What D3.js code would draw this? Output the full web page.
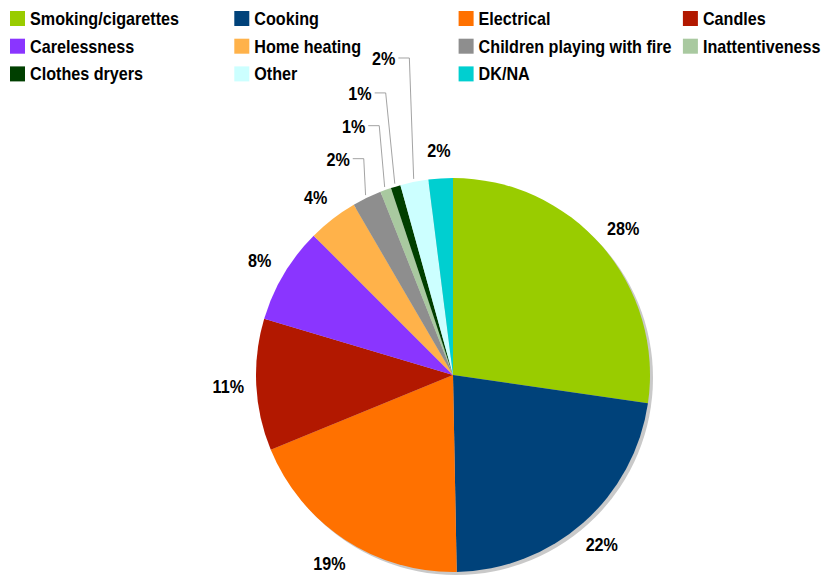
<!DOCTYPE html>
<html>
<head>
<meta charset="utf-8">
<script src="https://cdn.jsdelivr.net/npm/d3@7"></script>
<style>
    body { margin: 0; background: #fff; }
    text { font-family: "Liberation Sans", Arial, sans-serif; font-weight: bold; fill: #000; }
</style>
</head>
<body>
<div id="chart"></div>
<script>
// Causes of fires, share of responses
const categories = ['Smoking/cigarettes', 'Cooking', 'Electrical', 'Candles', 'Carelessness',
    'Home heating', 'Children playing with fire', 'Inattentiveness', 'Clothes dryers', 'Other', 'DK/NA'];
const shares = [27.3, 22.4, 19.1, 10.8, 7.9, 4.1, 2.4, 0.9, 0.8, 2.3, 2.0];
const labels = ['28%', '22%', '19%', '11%', '8%', '4%', '2%', '1%', '1%', '2%', '2%'];
const colors = ['#99cc00', '#00427a', '#ff7100', '#b21800', '#8a35ff', '#ffb24a',
    '#8e8e8e', '#a9c9a0', '#003f00', '#ccffff', '#00cfd0'];

const width = 823, height = 576;
const cx = 453, cy = 375, radius = 197;

// the original font is a narrow bold sans, squeeze Liberation Sans to match
function narrow(sel) {
    sel.each(function() {
        let w = this.getComputedTextLength();
        d3.select(this)
            .attr('textLength', w * 0.85)
            .attr('lengthAdjust', 'spacingAndGlyphs');
    });
}

const svg = d3.select('#chart').append('svg')
    .attr('width', width)
    .attr('height', height);

// legend, 4 columns
const legend = svg.append('g');
const colW = 224.3, rowH = 27.7, sw = 15;
categories.forEach(function(name, i) {
    let col = i % 4, row = Math.floor(i / 4);
    let g = legend.append('g')
        .attr('transform', 'translate(' + (10 + col * colW) + ',' + (11 + row * rowH) + ')');
    g.append('rect')
        .attr('width', sw)
        .attr('height', sw)
        .attr('fill', colors[i]);
    g.append('text')
        .attr('x', sw + 5)
        .attr('y', sw - 1)
        .style('font-size', '19px')
        .text(name)
        .call(narrow);
});

// pie
const pie = d3.pie().sort(null).value(d => d);
const arcs = pie(shares);
const arc = d3.arc().innerRadius(0).outerRadius(radius);

const pieG = svg.append('g').attr('transform', 'translate(' + cx + ',' + cy + ')');

// shadow
pieG.append('circle')
    .attr('cx', 3)
    .attr('cy', 3)
    .attr('r', radius)
    .attr('fill', '#c9c9c9');

pieG.selectAll('path.slice')
    .data(arcs)
    .join('path')
    .attr('class', 'slice')
    .attr('d', arc)
    .attr('fill', (d, i) => colors[i]);

// labels: small slices get leader lines
const leader = [6, 7, 8, 9];
const leaderR = {6: 234, 7: 260, 8: 290, 9: 320};
const mid = d => (d.startAngle + d.endAngle) / 2;
const polar = (a, r) => [r * Math.sin(a), -r * Math.cos(a)];
const labelArc = d3.arc().innerRadius(225).outerRadius(225);

arcs.forEach(function(d, i) {
    if (leader.indexOf(i) < 0) {
        let c = labelArc.centroid(d);
        pieG.append('text')
            .attr('x', c[0])
            .attr('y', c[1] + 7)
            .attr('text-anchor', 'middle')
            .style('font-size', '19px')
            .text(labels[i])
            .call(narrow);
    } else {
        let a = mid(d);
        let p0 = polar(a, radius + 3);
        let p1 = polar(a + 3.5 * Math.PI / 180, leaderR[i]);
        let p2 = [p1[0] - 11, p1[1]];
        pieG.append('polyline')
            .attr('points', [p0, p1, p2].map(p => p.join(',')).join(' '))
            .attr('fill', 'none')
            .attr('stroke', '#8c8c8c')
            .attr('stroke-width', 0.8);
        pieG.append('text')
            .attr('x', p2[0] - 3)
            .attr('y', p2[1] + 7)
            .attr('text-anchor', 'end')
            .style('font-size', '19px')
            .text(labels[i])
            .call(narrow);
    }
});
</script>
</body>
</html>
